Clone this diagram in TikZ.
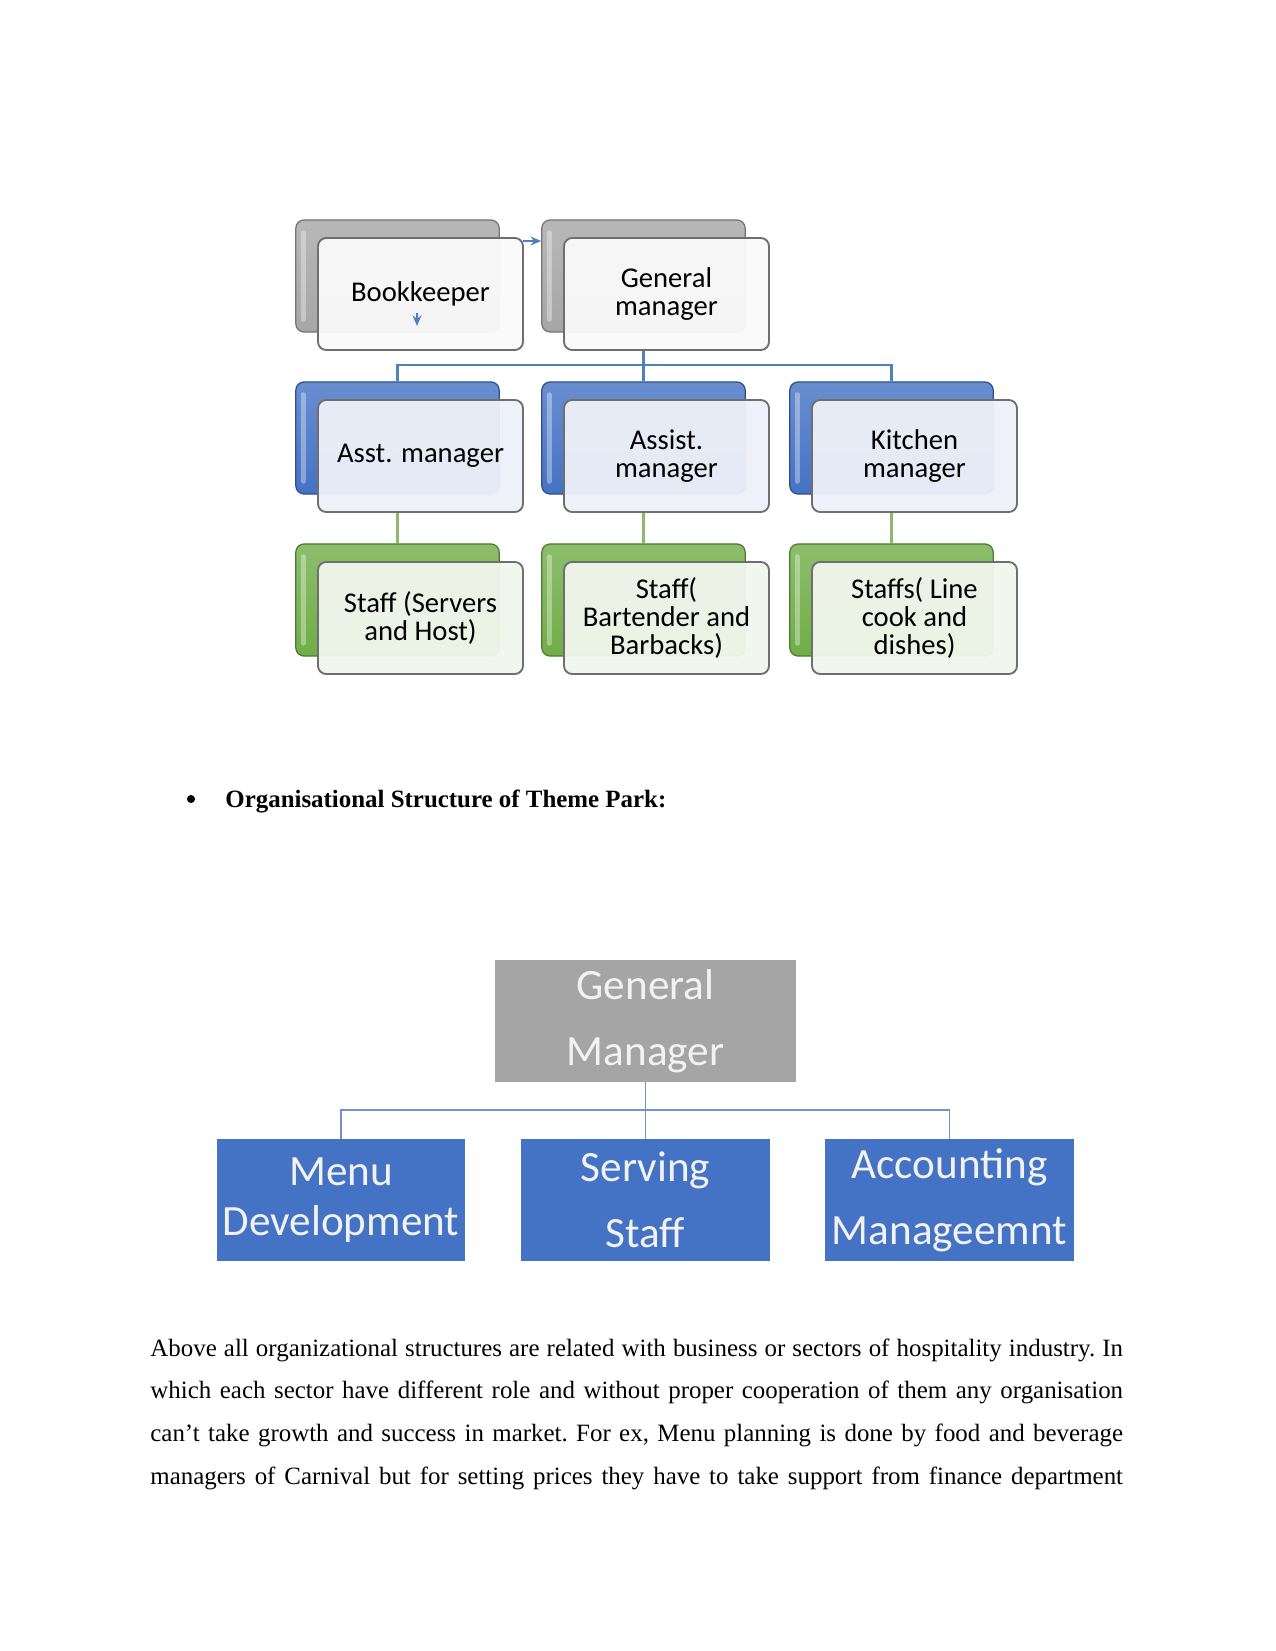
\documentclass[tikz,border=0pt]{standalone}
\usepackage{fontspec}
\setmainfont{Liberation Serif}
\newfontfamily\chartfont{Carlito}
\usepackage{tikz}
\usetikzlibrary{arrows.meta, calc}

\definecolor{greyback}{HTML}{A6A6A6}
\definecolor{blueback}{HTML}{4472C4}
\definecolor{greenback}{HTML}{70AD47}
\definecolor{greyfront}{HTML}{FAFAFA}
\definecolor{bluefront}{HTML}{EEF1F9}
\definecolor{greenfront}{HTML}{F2F7EE}
\definecolor{cardedge}{HTML}{6F6F6F}
\definecolor{linkblue}{HTML}{4F81BD}
\definecolor{linkgreen}{HTML}{8EB86E}
\definecolor{blockgrey}{HTML}{A5A5A5}
\definecolor{blockblue}{HTML}{4472C4}
\definecolor{blocklink}{HTML}{7391C8}

\begin{document}
\begin{tikzpicture}[
  x=0.4818pt, y=-0.4818pt,
  backcard/.style={
    rounded corners=4pt,
    minimum width=98pt,
    minimum height=54pt,
    line width=0.6pt,
    draw=#1!70!black,
    top color=#1!80!white,
    bottom color=#1,
    path picture={
      \fill[white, opacity=0.35, rounded corners=1pt]
        ([xshift=2.5pt, yshift=-5pt]path picture bounding box.north west)
        rectangle ([xshift=4.8pt, yshift=5pt]path picture bounding box.south west);
    }
  },
  frontcard/.style={
    rounded corners=4pt,
    minimum width=98.8pt,
    minimum height=54pt,
    inner sep=2pt,
    align=center,
    draw=cardedge, line width=0.9pt,
    fill=#1, fill opacity=0.95, text opacity=1,
    font=\chartfont\fontsize{13.8}{13.6}\selectfont
  },
  block/.style={
    fill=#1, text=white!95!black,
    minimum width=119.5pt,
    minimum height=58.8pt,
    inner sep=0pt, align=center,
    font=\chartfont\fontsize{20.8}{31.7}\selectfont
  },
  lien/.style={draw=#1, line width=1.1pt},
  petite/.style={
    arrows={-Stealth[length=1.8mm, width=1.5mm]},
    draw=linkblue, line width=0.8pt
  }
]

\fill[white] (0,0) rectangle (1275,1651);
\useasboundingbox (0,0) rectangle (1275,1651);

% ----- Cartes du fond -----
\node[backcard=greyback] (bk-back) at (397.5, 276) {};
\node[backcard=greyback] (gm-back) at (643.5, 276) {};
\node[backcard=blueback] (am-back) at (397.5, 438) {};
\node[backcard=blueback] (as-back) at (643.5, 438) {};
\node[backcard=blueback] (km-back) at (891.5, 438) {};
\node[backcard=greenback] (sh-back) at (397.5, 600) {};
\node[backcard=greenback] (sb-back) at (643.5, 600) {};
\node[backcard=greenback] (sl-back) at (891.5, 600) {};

% ----- Cartes du devant -----
\node[frontcard=greyfront] (bk) at (420.5, 294) {Bookkeeper};
\node[frontcard=greyfront] (gm) at (666.5, 294) {General\\manager};
\node[frontcard=bluefront] (am) at (420.5, 456) {Asst. manager};
\node[frontcard=bluefront] (as) at (666.5, 456) {Assist.\\manager};
\node[frontcard=bluefront] (km) at (914.5, 456) {Kitchen\\manager};
\node[frontcard=greenfront] (sh) at (420.5, 618) {Staff (Servers\\and Host)};
\node[frontcard=greenfront] (sb) at (666.5, 618) {Staff(\\Bartender and\\Barbacks)};
\node[frontcard=greenfront] (sl) at (914.5, 618) {Staffs( Line\\cook and\\dishes)};

% ----- Liens -----
\coordinate (bar) at (0, 365);
\draw[lien=linkblue] (gm-back |- gm.south) -- (as-back.north);
\draw[lien=linkblue] (am-back.north) -- (am-back |- bar) -- (km-back |- bar) -- (km-back.north);
\draw[lien=linkgreen] (am-back |- am.south) -- (sh-back.north);
\draw[lien=linkgreen] (as-back |- as.south) -- (sb-back.north);
\draw[lien=linkgreen] (km-back |- km.south) -- (sl-back.north);

\coordinate (bk-out) at (523, 241);
\coordinate (bk-drop) at (417, 313);
\draw[petite] (bk-out) -- (bk-out -| gm-back.west);
\draw[petite] (bk-drop) -- ++(0, 13);

% ----- Titre -----
\node[circle, fill=black, inner sep=0pt, minimum size=3.9pt] (puce) at (191, 799) {};
\node[anchor=base west, font=\bfseries\fontsize{12}{14}\selectfont, inner sep=0pt]
  (titre) at (225, 807) {Organisational Structure of Theme Park:};

% ----- Theme park -----
\node[block=blockgrey, minimum width=145pt] (tp-gm) at (645.5, 1021) {General\\Manager};
\node[block=blockblue, font=\chartfont\fontsize{20.8}{24.2}\selectfont]
  (menu) at (341, 1200) {Menu\\Development};
\node[block=blockblue] (serving) at (645.5, 1200) {Serving\\Staff};
\node[block=blockblue] (accounting) at (949.5, 1200) {Accounting\\Manageemnt};

\coordinate (tp-bar) at (0, 1110);
\draw[draw=blocklink, line width=0.9pt] (tp-gm.south) -- (serving.north);
\draw[draw=blocklink, line width=0.9pt] (menu.north) -- (menu |- tp-bar) -- (accounting |- tp-bar) -- (accounting.north);

% ----- Texte -----
\node[anchor=base west, text width=468.6pt, align=justify, inner sep=0pt,
  font=\fontsize{12}{20.7}\selectfont\frenchspacing] (para) at (150, 1356)
  {Above all organizational structures are related with business or sectors of hospitality industry. In\linebreak
   which each sector have different role and without proper cooperation of them any organisation\linebreak
   can’t take growth and success in market. For ex, Menu planning is done by food and beverage\linebreak
   managers of Carnival but for setting prices they have to take support from finance department{\parfillskip=0pt\par}};

\end{tikzpicture}
\end{document}
